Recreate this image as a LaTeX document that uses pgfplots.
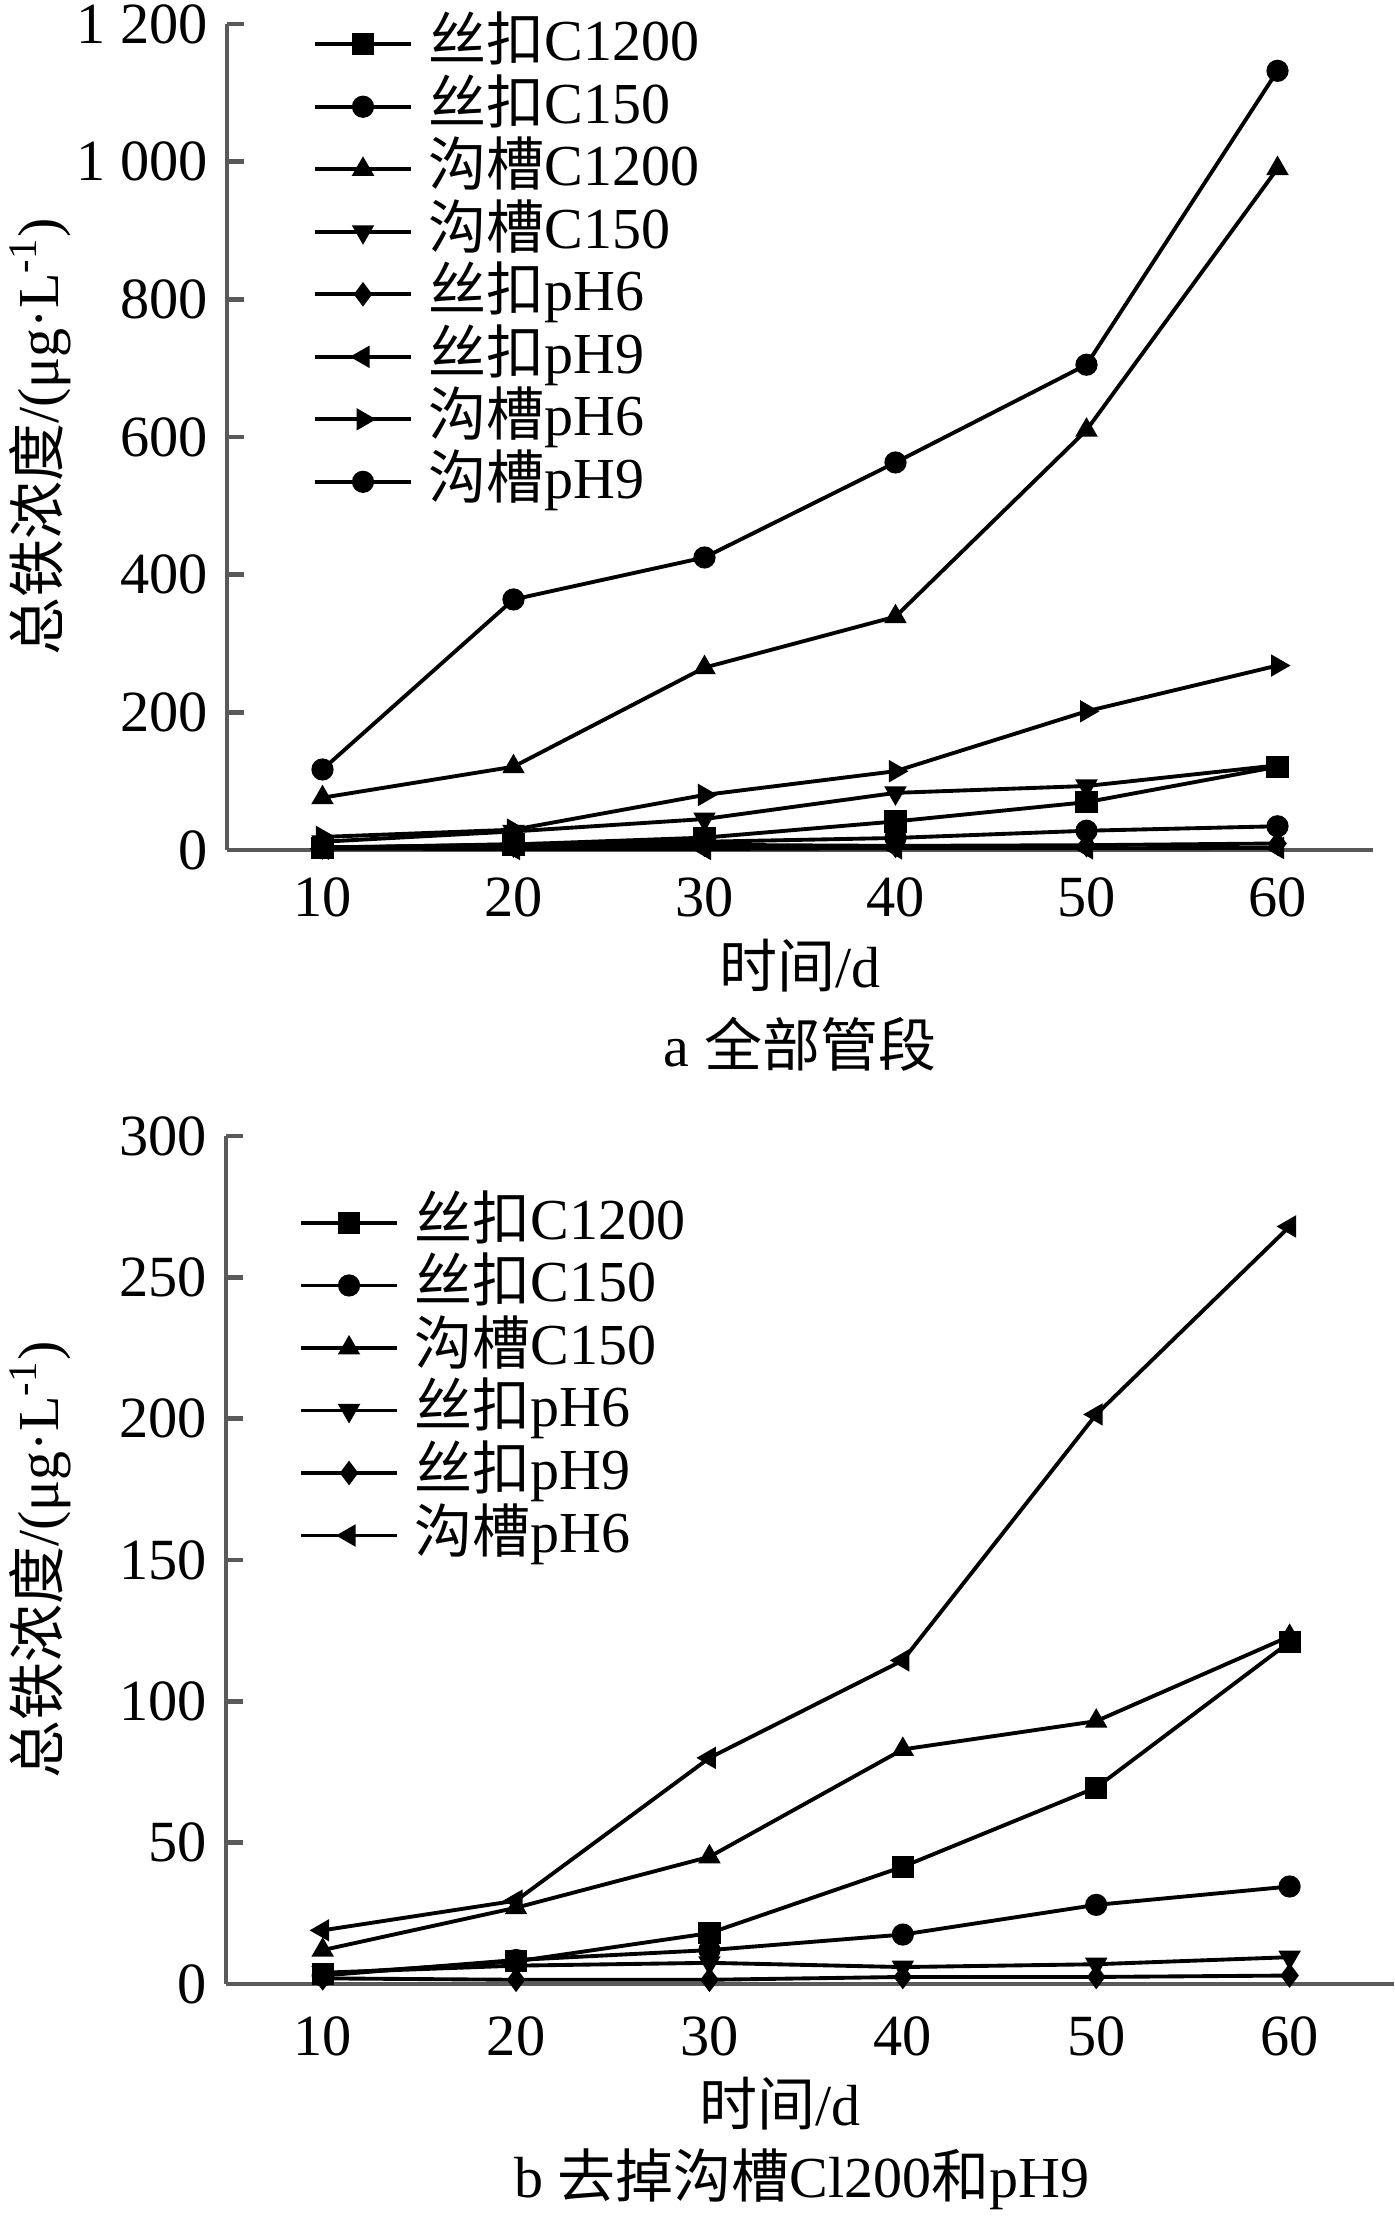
\documentclass[border=0pt]{standalone}
\usepackage{fontspec}
\setmainfont{Liberation Serif}
\newfontfamily\cjk{Noto Sans CJK SC}
\usepackage{pgfplots}
\usepackage{pgfplotstable}
\pgfplotsset{compat=1.18}

% total iron concentration, ug/L, by day
\pgfplotstableread{
d   sc1200 sc150 gc1200 gc150 sph6 sph9 gph6  gph9
10  3.5    3     76     12    4    2    19    117
20  8      8.5   121    27    6.5  1.5  29.5  364
30  18     12    265    45    7.5  1.5  80    425
40  41.5   17.5  339    83    6    2.5  114.5 563
50  69.5   28    610    93    7    2.5  201.5 705
60  121    34.5  990    123   9.5  3    268   1132
}\iron

\pgfplotsset{
  ironaxis/.style={
    scale only axis,
    axis x line=bottom, axis y line=left,
    axis line style={-, draw=black!65, line width=1.3pt},
    tick style={draw=black!65, line width=1.3pt},
    tick align=inside, major tick length=0.17cm,
    xtick={10,20,30,40,50,60},
    xmin=5,
    tick label style={font=\fontsize{16.6}{18}\selectfont},
    yticklabel style={xshift=-0.07cm},
    /pgf/number format/assume math mode=true,
    xlabel={{\cjk 时间}/d},
    xlabel style={font=\fontsize{16.5}{18}\selectfont},
    ylabel={{\cjk 总铁浓度}/(μg·L\textsuperscript{-1})},
    every axis y label/.style={at={(axis description cs:0,0.5)}, rotate=90,
      anchor=center, font=\fontsize{16.5}{18}\selectfont},
    legend cell align=left,
    legend style={draw=none, fill=none, inner sep=0pt, column sep=0.14cm,
      row sep=0.02cm, font=\fontsize{16.5}{18}\selectfont,
      nodes={inner sep=0.5pt, text height=0.45cm, text depth=0.12cm}},
    legend image code/.code={
      \draw[mark repeat=2, mark phase=2]
        plot coordinates {(0cm,0cm) (0.48cm,0cm) (0.96cm,0cm)};},
    every axis plot/.append style={black, line width=1.1pt, mark size=2.6pt},
  }
}

\begin{document}
\begin{tikzpicture}
\useasboundingbox (0cm,0cm) rectangle (13.94cm,-22.20cm);

\begin{axis}[ironaxis,
  at={(2.27cm,-8.50cm)}, anchor=south west,
  width=11.46cm, height=8.26cm,
  xmax=65, ymin=0, ymax=1200,
  ytick={0,200,400,600,800,1000,1200},
  yticklabels={0,200,400,600,800,1\ 000,1\ 200},
  xticklabel style={yshift=-0.15cm},
  every axis y label/.append style={yshift=1.87cm},
  every axis x label/.append style={at={(axis description cs:0.5,0)}, yshift=-1.16cm, anchor=center},
  legend style={at={(axis description cs:0.0745,1.013)}, anchor=north west},
]
\addplot[mark=square*] table[x=d, y=sc1200] {\iron};
\addlegendentry{{\cjk 丝扣}C1200}
\addplot[mark=*] table[x=d, y=sc150] {\iron};
\addlegendentry{{\cjk 丝扣}C150}
\addplot[mark=triangle*] table[x=d, y=gc1200] {\iron};
\addlegendentry{{\cjk 沟槽}C1200}
\addplot[mark=triangle*, mark options={rotate=180}] table[x=d, y=gc150] {\iron};
\addlegendentry{{\cjk 沟槽}C150}
\addplot[mark=diamond*] table[x=d, y=sph6] {\iron};
\addlegendentry{{\cjk 丝扣}pH6}
\addplot[mark=triangle*, mark options={rotate=90}] table[x=d, y=sph9] {\iron};
\addlegendentry{{\cjk 丝扣}pH9}
\addplot[mark=triangle*, mark options={rotate=-90}] table[x=d, y=gph6] {\iron};
\addlegendentry{{\cjk 沟槽}pH6}
\addplot[mark=*] table[x=d, y=gph9] {\iron};
\addlegendentry{{\cjk 沟槽}pH9}
\end{axis}
\node[font=\fontsize{16.5}{18}\selectfont] at (8.00cm,-10.44cm) {a {\cjk 全部管段}};

\begin{axis}[ironaxis,
  at={(2.26cm,-19.84cm)}, anchor=south west,
  width=11.68cm, height=8.48cm,
  xmax=65.4, ymin=0, ymax=300,
  ytick={0,50,100,150,200,250,300},
  xticklabel style={yshift=-0.2cm},
  every axis y label/.append style={yshift=1.86cm},
  every axis x label/.append style={at={(axis description cs:0.5,0)}, yshift=-1.20cm, anchor=center, xshift=-0.3cm},
  legend style={at={(axis description cs:0.062,0.934)}, anchor=north west},
]
\addplot[mark=square*] table[x=d, y=sc1200] {\iron};
\addlegendentry{{\cjk 丝扣}C1200}
\addplot[mark=*] table[x=d, y=sc150] {\iron};
\addlegendentry{{\cjk 丝扣}C150}
\addplot[mark=triangle*] table[x=d, y=gc150] {\iron};
\addlegendentry{{\cjk 沟槽}C150}
\addplot[mark=triangle*, mark options={rotate=180}] table[x=d, y=sph6] {\iron};
\addlegendentry{{\cjk 丝扣}pH6}
\addplot[mark=diamond*] table[x=d, y=sph9] {\iron};
\addlegendentry{{\cjk 丝扣}pH9}
\addplot[mark=triangle*, mark options={rotate=90}] table[x=d, y=gph6] {\iron};
\addlegendentry{{\cjk 沟槽}pH6}
\end{axis}
\node[font=\fontsize{16.5}{18}\selectfont] at (8.02cm,-21.79cm) {b {\cjk 去掉沟槽}Cl200{\cjk 和}pH9};
\end{tikzpicture}
\end{document}
